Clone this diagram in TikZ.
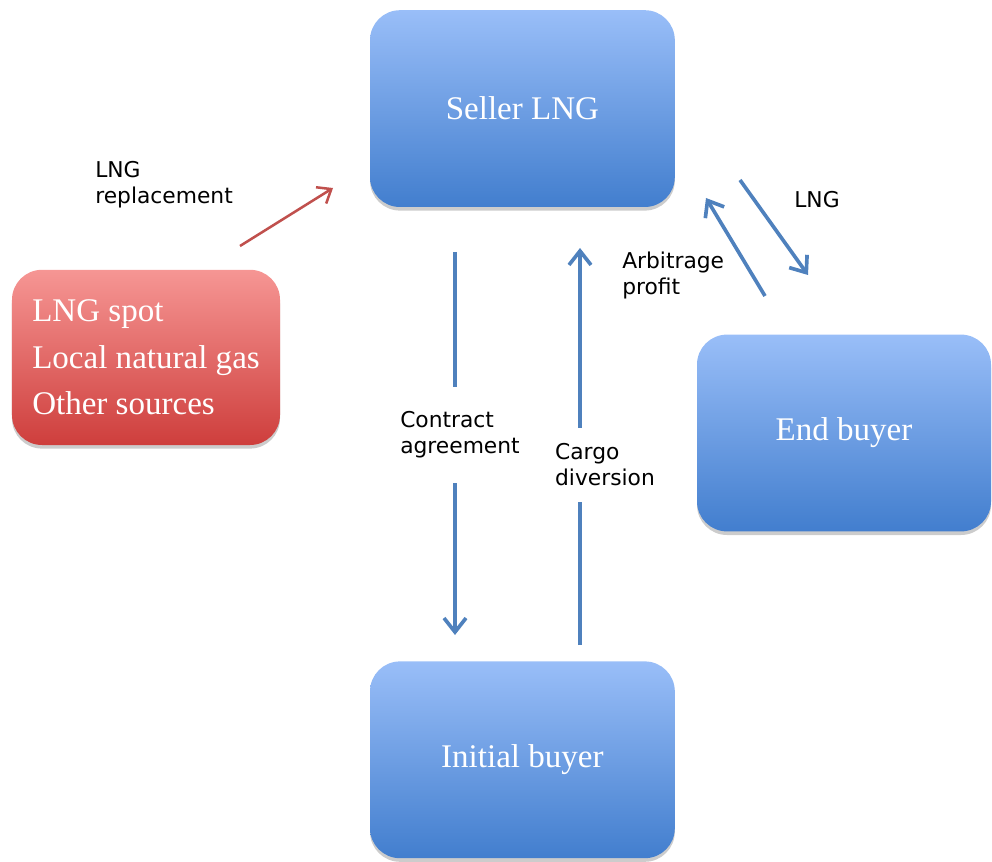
\documentclass[tikz,border=0pt]{standalone}
\usepackage{fontspec}
\setmainfont{Liberation Serif}
\newfontfamily\labelfont{DejaVu Sans}
\usetikzlibrary{arrows.meta,shadows}
\definecolor{boxtop}{RGB}{153,190,248}
\definecolor{boxbot}{RGB}{66,126,206}
\definecolor{srctop}{RGB}{246,150,148}
\definecolor{srcbot}{RGB}{206,62,60}
\definecolor{flowblue}{RGB}{79,129,189}
\definecolor{flowred}{RGB}{192,80,77}

\begin{document}
\begin{tikzpicture}[x=1cm,y=1cm,
  party/.style={rounded corners=0.75cm,minimum width=7.62cm,minimum height=4.92cm,
    top color=boxtop,bottom color=boxbot,text=white,font=\fontsize{23.5}{33}\selectfont,
    drop shadow={shadow xshift=0pt,shadow yshift=-0.09cm,opacity=0.4}},
  flow/.style={draw=flowblue,line width=2.6pt,-{Straight Barb[length=3.5mm,width=5.5mm]}},
  tag/.style={font=\labelfont\fontsize{15.5}{18.5}\selectfont,align=left,inner sep=0pt}]
  \useasboundingbox (0,0) rectangle (24.8,21.525);

  \node[party] (seller) at (13.06,18.81) {Seller LNG};
  \node[party,minimum width=7.35cm] (endbuyer) at (21.1,10.7) {End buyer};
  \node[party] (initial) at (13.06,2.53) {Initial buyer};
  \node[party,minimum width=6.7cm,minimum height=4.38cm,top color=srctop,bottom color=srcbot,align=left] (sources) at (3.65,12.59) {LNG spot\\Local natural gas\\Other sources};

  \coordinate (ctop) at (11.375,15.225);
  \coordinate (cbot) at (11.375,5.65);
  \coordinate (gbot) at (14.5,5.4);
  \coordinate (gtop) at (14.5,15.325);
  \coordinate (rfrom) at (6.0,15.375);
  \coordinate (rto) at (8.325,16.825);
  \coordinate (afrom) at (19.125,14.125);
  \coordinate (ato) at (17.65,16.575);
  \coordinate (lfrom) at (18.5,17.025);
  \coordinate (lto) at (20.2,14.65);

  \draw[flow] (ctop) -- (cbot);
  \draw[flow] (gbot) -- (gtop);
  \draw[flow] (afrom) -- (ato);
  \draw[flow] (lfrom) -- (lto);
  \draw[flow,draw=flowred,line width=1.8pt,-{Straight Barb[length=3mm,width=4.8mm]}] (rfrom) -- (rto);

  \node[tag,fill=white,inner ysep=0.62cm,inner xsep=2pt] (contract) at (11.5,10.65) {Contract\\agreement};
  \node[tag,fill=white,inner ysep=0.4cm,inner xsep=2pt] (cargo) at (15.125,9.9) {Cargo\\diversion};
  \node[tag,anchor=west] (replace) at (2.375,16.9) {LNG\\replacement};
  \node[tag,anchor=west] (profit) at (15.55,14.65) {Arbitrage\\profit};
  \node[tag] (lngtag) at (20.425,16.525) {LNG};
\end{tikzpicture}
\end{document}
